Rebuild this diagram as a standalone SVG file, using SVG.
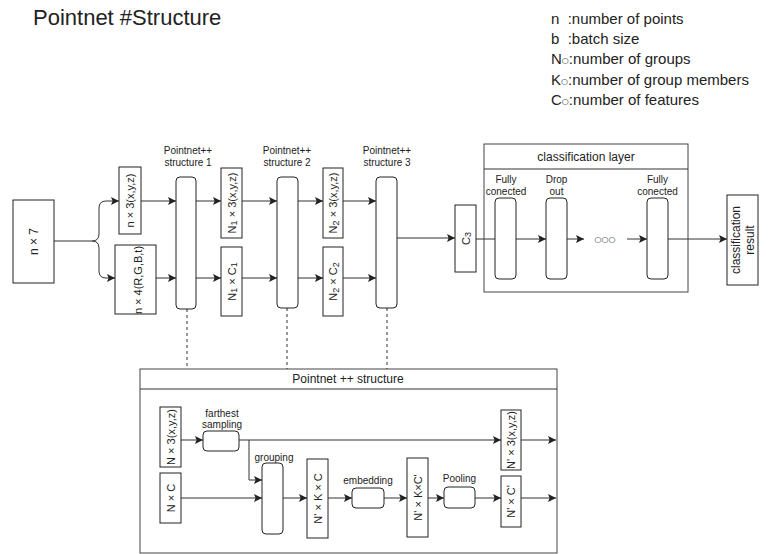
<svg xmlns="http://www.w3.org/2000/svg" width="768" height="554" viewBox="0 0 768 554">
  <style>
    text { font-family: "Liberation Sans", Arial, sans-serif; fill: #222; }
    .box { fill: #fff; stroke: #222; stroke-width: 1; }
    .frame { fill: #fff; stroke: #444; stroke-width: 1; }
    .edge { fill: none; stroke: #333; stroke-width: 1; }
    .arr { marker-end: url(#tip); }
    .dash { fill: none; stroke: #333; stroke-width: 1; stroke-dasharray: 3 3; }
    .rot { font-size: 11px; text-anchor: middle; dominant-baseline: central; }
    .lbl { font-size: 10px; text-anchor: middle; }
    .sm { font-size: 10px; text-anchor: middle; }
    .head { font-size: 12px; text-anchor: middle; }
    .leg { font-size: 15px; }
    .circ { font-family: "DejaVu Sans", sans-serif; font-size: 8px; }
  </style>
  <defs>
    <marker id="tip" viewBox="0 0 10 10" refX="10" refY="5" markerWidth="9" markerHeight="8" markerUnits="userSpaceOnUse" orient="auto">
      <path d="M0,0 L10,5 L0,10 L2,5 Z" fill="#222"/>
    </marker>
  </defs>
  <rect width="768" height="554" fill="#fff"/>

  <!-- title and legend -->
  <g id="title">
    <text x="33" y="25" font-size="22">Pointnet #Structure</text>
  </g>
  <g id="legend" class="leg">
    <text x="551" y="24" xml:space="preserve">n  :number of points</text>
    <text x="551" y="44" xml:space="preserve">b  :batch size</text>
    <text x="551" y="64">N<tspan class="circ" dy="-1">○</tspan><tspan dy="1">:number of groups</tspan></text>
    <text x="551" y="84.5">K<tspan class="circ" dy="-1">○</tspan><tspan dy="1">:number of group members</tspan></text>
    <text x="551" y="105">C<tspan class="circ" dy="-1">○</tspan><tspan dy="1">:number of features</tspan></text>
  </g>

  <!-- containers -->
  <g id="classification-layer">
    <rect class="frame" x="484" y="144" width="204" height="148"/>
    <line class="edge" x1="484" y1="169" x2="688" y2="169"/>
    <text class="head" x="586" y="161">classification layer</text>
  </g>
  <g id="pointnet-structure">
    <rect class="frame" x="140" y="369" width="417" height="184"/>
    <line class="edge" x1="140" y1="389" x2="557" y2="389"/>
    <text class="head" x="348" y="383">Pointnet ++ structure</text>
  </g>

  <!-- connectors -->
  <g id="connectors">
    <path class="edge arr" d="M54,241 H92 Q99,241 99,234 V208 Q99,201 106,201 H119"/>
    <path class="edge arr" d="M92,241 Q99,241 99,248 V271 Q99,278 106,278 H115"/>
    <path class="edge arr" d="M141,201 H176"/>
    <path class="edge arr" d="M156,278 H176"/>
    <path class="edge arr" d="M196,201 H221"/>
    <path class="edge arr" d="M196,278 H221"/>
    <path class="edge arr" d="M242,201 H277"/>
    <path class="edge arr" d="M242,278 H277"/>
    <path class="edge arr" d="M298,201 H323"/>
    <path class="edge arr" d="M298,278 H323"/>
    <path class="edge arr" d="M343,201 H376"/>
    <path class="edge arr" d="M343,278 H376"/>
    <path class="edge arr" d="M397,238 H455"/>
    <path class="edge" d="M476,239 H495"/>
    <path class="edge arr" d="M516,239 H546"/>
    <path class="edge arr" d="M567,239 H584"/>
    <path class="edge arr" d="M627,239 H647"/>
    <path class="edge arr" d="M668,239 H727"/>
    <path class="dash" d="M187,309 V369"/>
    <path class="dash" d="M287,308 V369"/>
    <path class="dash" d="M387,308 V369"/>
    <!-- inside the Pointnet ++ structure -->
    <path class="edge arr" d="M181,440 H203"/>
    <path class="edge arr" d="M239,440 H501"/>
    <path class="edge arr" d="M249,440 V480 H262"/>
    <path class="edge arr" d="M181,498 H262"/>
    <path class="edge arr" d="M283,498 H307"/>
    <path class="edge arr" d="M328,498 H352"/>
    <path class="edge arr" d="M384,498 H407"/>
    <path class="edge arr" d="M428,498 H444"/>
    <path class="edge arr" d="M475,498 H501"/>
    <path class="edge arr" d="M521,440 H556"/>
    <path class="edge arr" d="M521,498 H556"/>
  </g>

  <!-- main pipeline -->
  <g id="input">
    <rect class="box" x="13" y="200" width="41" height="83"/>
    <text class="rot" transform="rotate(-90 33.5 241.5)" x="33.5" y="241.5" style="font-size:12px">n × 7</text>
  </g>
  <g id="xyz-in">
    <rect class="box" x="119" y="167" width="22" height="67"/>
    <text class="rot" transform="rotate(-90 130 200.5)" x="130" y="200.5">n × 3(x,y,z)</text>
  </g>
  <g id="rgbt-in">
    <rect class="box" x="115" y="245" width="41" height="69"/>
    <text class="rot" transform="rotate(-90 138 280)" x="138" y="280">n × 4(R,G,B,t)</text>
  </g>

  <g id="sa1">
    <text class="lbl" x="188" y="154">Pointnet++</text>
    <text class="lbl" x="188" y="166">structure 1</text>
    <rect class="box" x="176" y="177" width="20" height="132" rx="4"/>
  </g>
  <g id="n1-xyz">
    <rect class="box" x="221" y="168" width="21" height="70"/>
    <text class="rot" transform="rotate(-90 231.5 203)" x="231.5" y="203">N<tspan dy="2.5" font-size="9">1</tspan><tspan dy="-2.5"> × 3(x,y,z)</tspan></text>
  </g>
  <g id="n1-c1">
    <rect class="box" x="221" y="247" width="21" height="69"/>
    <text class="rot" transform="rotate(-90 231.5 281.5)" x="231.5" y="281.5">N<tspan dy="2.5" font-size="9">1</tspan><tspan dy="-2.5"> × C</tspan><tspan dy="2.5" font-size="9">1</tspan></text>
  </g>

  <g id="sa2">
    <text class="lbl" x="287" y="154">Pointnet++</text>
    <text class="lbl" x="287" y="166">structure 2</text>
    <rect class="box" x="277" y="177" width="21" height="131" rx="4"/>
  </g>
  <g id="n2-xyz">
    <rect class="box" x="323" y="168" width="20" height="70"/>
    <text class="rot" transform="rotate(-90 333 203)" x="333" y="203">N<tspan dy="2.5" font-size="9">2</tspan><tspan dy="-2.5"> × 3(x,y,z)</tspan></text>
  </g>
  <g id="n2-c2">
    <rect class="box" x="323" y="247" width="20" height="69"/>
    <text class="rot" transform="rotate(-90 333 281.5)" x="333" y="281.5">N<tspan dy="2.5" font-size="9">2</tspan><tspan dy="-2.5"> × C</tspan><tspan dy="2.5" font-size="9">2</tspan></text>
  </g>

  <g id="sa3">
    <text class="lbl" x="387" y="154">Pointnet++</text>
    <text class="lbl" x="387" y="166">structure 3</text>
    <rect class="box" x="376" y="177" width="21" height="131" rx="4"/>
  </g>
  <g id="c3">
    <rect class="box" x="455" y="205" width="21" height="67"/>
    <text class="rot" transform="rotate(-90 465.5 238.5)" x="465.5" y="238.5">C<tspan dy="2.5" font-size="9">3</tspan></text>
  </g>

  <g id="fc1">
    <text class="sm" x="506" y="183">Fully</text>
    <text class="sm" x="506" y="195">conected</text>
    <rect class="box" x="495" y="198" width="21" height="81" rx="4"/>
  </g>
  <g id="dropout">
    <text class="sm" x="556.5" y="183">Drop</text>
    <text class="sm" x="556.5" y="195">out</text>
    <rect class="box" x="546" y="198" width="21" height="81" rx="4"/>
  </g>
  <g id="ellipsis">
    <text class="circ" x="605" y="239" text-anchor="middle" dominant-baseline="central">○○○</text>
  </g>
  <g id="fc2">
    <text class="sm" x="657.5" y="183">Fully</text>
    <text class="sm" x="657.5" y="195">conected</text>
    <rect class="box" x="647" y="198" width="21" height="81" rx="4"/>
  </g>
  <g id="result">
    <rect class="box" x="727" y="195" width="31" height="90"/>
    <text class="rot" style="font-size:12px" transform="rotate(-90 742.5 240)" x="742.5" y="233">classification</text>
    <text class="rot" style="font-size:12px" transform="rotate(-90 742.5 240)" x="742.5" y="247">result</text>
  </g>

  <!-- set abstraction detail -->
  <g id="sa-xyz">
    <rect class="box" x="160" y="407" width="21" height="60"/>
    <text class="rot" transform="rotate(-90 170.5 437)" x="170.5" y="437">N × 3(x,y,z)</text>
  </g>
  <g id="sa-feat">
    <rect class="box" x="160" y="473" width="21" height="50"/>
    <text class="rot" transform="rotate(-90 170.5 498)" x="170.5" y="498">N × C</text>
  </g>
  <g id="sampling">
    <text class="lbl" x="222" y="417">farthest</text>
    <text class="lbl" x="222" y="428">sampling</text>
    <rect class="box" x="203" y="431" width="36" height="20" rx="4"/>
  </g>
  <g id="grouping">
    <text class="lbl" x="274" y="461">grouping</text>
    <rect class="box" x="262" y="463" width="21" height="71" rx="4"/>
  </g>
  <g id="nkc">
    <rect class="box" x="307" y="459" width="21" height="79"/>
    <text class="rot" transform="rotate(-90 317.5 498.5)" x="317.5" y="498.5">N' × K × C</text>
  </g>
  <g id="embedding">
    <text class="lbl" x="368" y="484">embedding</text>
    <rect class="box" x="352" y="488" width="32" height="20" rx="4"/>
  </g>
  <g id="nkc2">
    <rect class="box" x="407" y="458" width="21" height="79"/>
    <text class="rot" transform="rotate(-90 417.5 497.5)" x="417.5" y="497.5">N' × K×C'</text>
  </g>
  <g id="pooling">
    <text class="lbl" x="459.5" y="482">Pooling</text>
    <rect class="box" x="444" y="487" width="31" height="21" rx="4"/>
  </g>
  <g id="out-xyz">
    <rect class="box" x="501" y="410" width="20" height="60"/>
    <text class="rot" transform="rotate(-90 511 440)" x="511" y="440">N' × 3(x,y,z)</text>
  </g>
  <g id="out-feat">
    <rect class="box" x="501" y="476" width="20" height="51"/>
    <text class="rot" transform="rotate(-90 511 501.5)" x="511" y="501.5">N' × C'</text>
  </g>
</svg>
